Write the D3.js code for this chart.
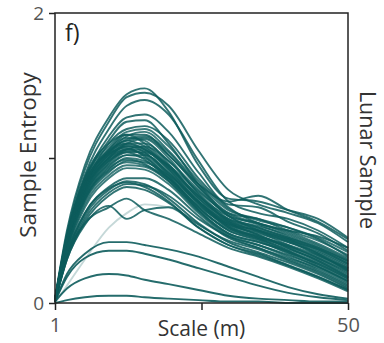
<!DOCTYPE html>
<html>
<head>
<meta charset="utf-8">
<script src="https://cdn.jsdelivr.net/npm/d3@7"></script>
<style>
    html, body { margin: 0; padding: 0; background: #fff; }
    svg { display: block; font-family: 'Open Sans', sans-serif; }
</style>
</head>
<body>
<svg id="chart"></svg>
<script>
// scale (m) at which each entropy curve was sampled
const scales = [1, 3, 6, 10, 13, 16, 20, 25, 30, 35, 40, 45, 50];

// tall curves, peak near 15 m
const tallCurves = [
    [0.03, 0.50, 0.95, 1.28, 1.44, 1.48, 1.32, 0.95, 0.72, 0.70, 0.64, 0.58, 0.45],
    [0.03, 0.48, 0.92, 1.25, 1.42, 1.45, 1.36, 1.05, 0.78, 0.68, 0.62, 0.55, 0.42],
    [0.02, 0.45, 0.88, 1.20, 1.36, 1.40, 1.30, 0.98, 0.70, 0.62, 0.58, 0.50, 0.38],
    [0.02, 0.46, 0.85, 1.15, 1.28, 1.30, 1.18, 0.90, 0.68, 0.66, 0.56, 0.48, 0.36],
    [0.02, 0.44, 0.84, 1.12, 1.25, 1.26, 1.10, 0.82, 0.62, 0.58, 0.52, 0.44, 0.32],
    [0.02, 0.42, 0.80, 1.10, 1.20, 1.22, 1.12, 0.86, 0.66, 0.55, 0.50, 0.46, 0.38],
    [0.02, 0.44, 0.82, 1.06, 1.16, 1.16, 1.02, 0.82, 0.70, 0.74, 0.64, 0.56, 0.44],
];

// main bundle
const coreCurves = [
    [0.02, 0.44, 0.82, 1.05, 1.12, 1.14, 1.02, 0.80, 0.62, 0.55, 0.48, 0.40, 0.30],
    [0.02, 0.42, 0.80, 1.02, 1.10, 1.10, 0.98, 0.76, 0.58, 0.52, 0.45, 0.37, 0.27],
    [0.02, 0.46, 0.84, 1.06, 1.14, 1.12, 0.96, 0.72, 0.56, 0.50, 0.44, 0.36, 0.26],
    [0.01, 0.40, 0.76, 0.98, 1.06, 1.08, 0.98, 0.78, 0.60, 0.50, 0.42, 0.34, 0.24],
    [0.02, 0.43, 0.78, 1.00, 1.08, 1.06, 0.92, 0.70, 0.54, 0.48, 0.42, 0.35, 0.25],
    [0.02, 0.41, 0.75, 0.96, 1.04, 1.04, 0.94, 0.74, 0.57, 0.49, 0.40, 0.31, 0.21],
    [0.01, 0.39, 0.73, 0.94, 1.02, 1.02, 0.90, 0.68, 0.52, 0.46, 0.40, 0.33, 0.23],
    [0.02, 0.45, 0.83, 1.04, 1.15, 1.18, 1.05, 0.82, 0.64, 0.58, 0.50, 0.43, 0.33],
    [0.01, 0.38, 0.72, 0.92, 1.00, 0.98, 0.86, 0.66, 0.50, 0.44, 0.37, 0.30, 0.20],
    [0.02, 0.44, 0.80, 1.02, 1.08, 1.04, 0.88, 0.64, 0.48, 0.42, 0.36, 0.28, 0.18],
    [0.01, 0.37, 0.70, 0.90, 0.98, 0.97, 0.88, 0.70, 0.55, 0.47, 0.39, 0.31, 0.22],
    [0.02, 0.42, 0.78, 1.00, 1.10, 1.13, 1.00, 0.75, 0.56, 0.47, 0.38, 0.29, 0.19],
    [0.01, 0.36, 0.68, 0.88, 0.95, 0.94, 0.84, 0.64, 0.48, 0.42, 0.35, 0.27, 0.17],
    [0.02, 0.40, 0.74, 0.95, 1.02, 1.00, 0.87, 0.66, 0.50, 0.43, 0.34, 0.25, 0.15],
    [0.02, 0.43, 0.81, 1.04, 1.12, 1.08, 0.94, 0.72, 0.58, 0.53, 0.47, 0.39, 0.29],
    [0.01, 0.35, 0.66, 0.86, 0.93, 0.92, 0.82, 0.62, 0.46, 0.38, 0.31, 0.24, 0.14],
    [0.02, 0.41, 0.77, 0.99, 1.06, 1.05, 0.95, 0.77, 0.61, 0.54, 0.46, 0.38, 0.28],
    [0.01, 0.39, 0.72, 0.93, 0.99, 0.96, 0.84, 0.63, 0.47, 0.40, 0.32, 0.23, 0.13],
    [0.02, 0.46, 0.86, 1.08, 1.18, 1.20, 1.08, 0.84, 0.65, 0.57, 0.52, 0.45, 0.35],
    [0.02, 0.44, 0.82, 1.04, 1.10, 1.06, 0.92, 0.70, 0.53, 0.45, 0.36, 0.26, 0.16],
    [0.01, 0.40, 0.75, 0.97, 1.05, 1.03, 0.90, 0.70, 0.55, 0.50, 0.43, 0.33, 0.24],
    [0.02, 0.42, 0.79, 1.01, 1.09, 1.07, 0.93, 0.73, 0.57, 0.51, 0.44, 0.34, 0.22],
    [0.02, 0.47, 0.87, 1.10, 1.16, 1.10, 0.95, 0.74, 0.60, 0.55, 0.49, 0.41, 0.31],
    [0.02, 0.45, 0.83, 1.03, 1.07, 1.01, 0.86, 0.67, 0.54, 0.49, 0.43, 0.37, 0.27],
    [0.01, 0.41, 0.77, 0.98, 1.04, 0.99, 0.85, 0.65, 0.51, 0.45, 0.39, 0.32, 0.23],
    [0.02, 0.43, 0.80, 1.03, 1.13, 1.15, 1.04, 0.80, 0.60, 0.52, 0.45, 0.38, 0.29],
    [0.01, 0.38, 0.71, 0.91, 0.97, 0.95, 0.86, 0.69, 0.53, 0.46, 0.38, 0.29, 0.18],
    [0.02, 0.42, 0.79, 1.00, 1.06, 1.02, 0.89, 0.69, 0.52, 0.44, 0.35, 0.27, 0.17],
];

// lower part of the bundle
const midCurves = [
    [0.01, 0.34, 0.62, 0.80, 0.86, 0.86, 0.78, 0.60, 0.45, 0.38, 0.30, 0.22, 0.12],
    [0.01, 0.32, 0.60, 0.78, 0.84, 0.82, 0.72, 0.55, 0.42, 0.35, 0.28, 0.20, 0.10],
    [0.01, 0.33, 0.62, 0.79, 0.83, 0.80, 0.70, 0.52, 0.40, 0.34, 0.26, 0.18, 0.09],
    [0.01, 0.30, 0.56, 0.74, 0.80, 0.78, 0.69, 0.54, 0.43, 0.37, 0.29, 0.21, 0.11],
    [0.01, 0.31, 0.58, 0.76, 0.82, 0.81, 0.74, 0.58, 0.46, 0.40, 0.33, 0.25, 0.15],
    [0.01, 0.32, 0.55, 0.66, 0.72, 0.64, 0.58, 0.48, 0.38, 0.32, 0.25, 0.17, 0.08],
    [0.01, 0.30, 0.54, 0.67, 0.58, 0.64, 0.66, 0.52, 0.40, 0.33, 0.26, 0.18, 0.09],
];

// low entropy samples
const lowCurves = [
    [0.01, 0.20, 0.34, 0.42, 0.42, 0.40, 0.37, 0.32, 0.25, 0.18, 0.11, 0.06, 0.03],
    [0.01, 0.18, 0.31, 0.36, 0.36, 0.34, 0.30, 0.24, 0.18, 0.12, 0.07, 0.04, 0.02],
    [0.01, 0.10, 0.17, 0.20, 0.19, 0.16, 0.13, 0.09, 0.05, 0.03, 0.02, 0.01, 0.01],
    [0.00, 0.02, 0.04, 0.05, 0.05, 0.04, 0.03, 0.02, 0.01, 0.01, 0.00, 0.00, 0.00],
];

// faint curve
const faintCurves = [
    [0.00, 0.12, 0.30, 0.52, 0.62, 0.68, 0.66, 0.55, 0.42, 0.34, 0.27, 0.19, 0.10],
];

const yTickValues = [0, 1, 2];
const yTickLabels = ['0', '', '2'];
const xTickValues = [1, 25.5, 50];
const xTickLabels = ['1', '', '50'];

const WIDTH = 384;
const HEIGHT = 343;
const margin = { top: 13, right: 36, bottom: 40, left: 55 };
const LINE_COLOR = '#0d5c5c';
const TEXT_COLOR = '#333';

const svg = d3.select('#chart').attr('width', WIDTH).attr('height', HEIGHT);

const xCoord = d3.scaleLinear().domain([1, 50]).range([margin.left, WIDTH - margin.right]);
const yCoord = d3.scaleLinear().domain([0, 2]).range([HEIGHT - margin.bottom, margin.top]);

const line = d3
    .line()
    .x((d, i) => xCoord(scales[i]))
    .y(d => yCoord(d))
    .curve(d3.curveMonotoneX);

const drawCurves = (curves, opacity, color) => {
    svg.append('g')
        .attr('fill', 'none')
        .attr('stroke', color)
        .attr('stroke-width', 1.9)
        .attr('stroke-opacity', opacity)
        .selectAll('path')
        .data(curves)
        .join('path')
        .attr('d', line);
};

drawCurves(faintCurves, 0.45, '#7fa8a8');
drawCurves(lowCurves, 0.9, LINE_COLOR);
drawCurves(midCurves, 0.85, LINE_COLOR);
drawCurves(coreCurves, 0.8, LINE_COLOR);
drawCurves(tallCurves, 0.85, LINE_COLOR);

// frame
const [x0, x1] = xCoord.range();
const [y0, y1] = yCoord.range();
svg.append('rect')
    .attr('x', x0)
    .attr('y', y1)
    .attr('width', x1 - x0)
    .attr('height', y0 - y1)
    .attr('fill', 'none')
    .attr('stroke', '#222')
    .attr('stroke-width', 1.5);

const yAxis = d3.axisLeft(yCoord)
    .tickValues(yTickValues)
    .tickSize(6)
    .tickPadding(5)
    .tickFormat((d, i) => yTickLabels[i]);

const xAxis = d3.axisBottom(xCoord)
    .tickValues(xTickValues)
    .tickSize(7)
    .tickPadding(8)
    .tickFormat((d, i) => xTickLabels[i]);

const styleAxis = fontSize => g => {
    g.select('.domain').remove();
    g.selectAll('line').attr('stroke', '#222').attr('stroke-width', 1.5);
    g.selectAll('text')
        .attr('fill', '#555')
        .style('font-family', "'Open Sans', sans-serif")
        .style('font-size', fontSize);
};

svg.append('g')
    .attr('class', 'axis axis--y')
    .attr('transform', `translate(${x0}, 0)`)
    .call(yAxis)
    .call(styleAxis('19px'));

svg.append('g')
    .attr('class', 'axis axis--x')
    .attr('transform', `translate(0, ${y0})`)
    .call(xAxis)
    .call(styleAxis('20px'));

// labels
svg.append('text')
    .attr('x', (x0 + x1) / 2)
    .attr('y', 336)
    .attr('text-anchor', 'middle')
    .attr('fill', TEXT_COLOR)
    .style('font-size', '21px')
    .text('Scale (m)');

svg.append('text')
    .attr('transform', `translate(36, 155) rotate(-90)`)
    .attr('text-anchor', 'middle')
    .attr('fill', TEXT_COLOR)
    .style('font-size', '22.5px')
    .text('Sample Entropy');

svg.append('text')
    .attr('transform', `translate(360, 160) rotate(90)`)
    .attr('text-anchor', 'middle')
    .attr('fill', TEXT_COLOR)
    .style('font-size', '21.5px')
    .text('Lunar Sample');

svg.append('text')
    .attr('x', x0 + 10)
    .attr('y', y1 + 28)
    .attr('fill', '#222')
    .style('font-size', '23px')
    .text('f)');
</script>
</body>
</html>
